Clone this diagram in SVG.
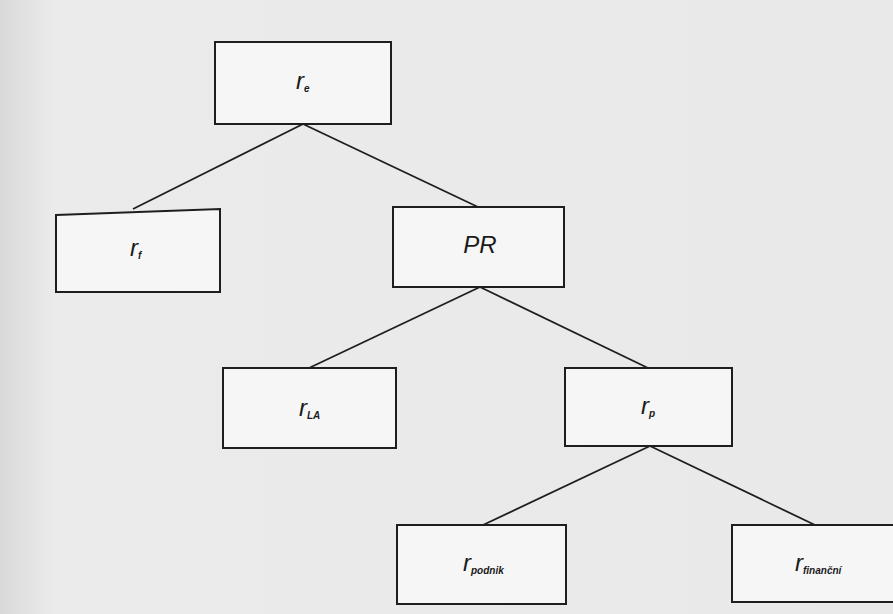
<svg xmlns="http://www.w3.org/2000/svg" width="893" height="614" viewBox="0 0 893 614">
<defs>
<linearGradient id="bg" x1="0" y1="0" x2="1" y2="0">
<stop offset="0" stop-color="#d9d9d9"/>
<stop offset="0.06" stop-color="#ebebeb"/>
<stop offset="1" stop-color="#e9e9e9"/>
</linearGradient>
</defs>
<style>
.box{fill:#f6f6f6;stroke:#1e1e1e;stroke-width:2}
.lbl{font-family:"Liberation Sans",Arial,sans-serif;font-style:italic;fill:#1a1a1a}
.main{font-size:24px}
.sub{font-size:10px;font-weight:bold}
.conn line{stroke:#1e1e1e;stroke-width:1.8}
</style>
<rect x="0" y="0" width="893" height="614" fill="url(#bg)"/>
<g id="connectors" class="conn">
<line x1="303" y1="124" x2="133" y2="209"/>
<line x1="303" y1="124" x2="478" y2="207"/>
<line x1="480" y1="287" x2="309" y2="368"/>
<line x1="480" y1="287" x2="648" y2="368"/>
<line x1="650" y1="446" x2="483" y2="525"/>
<line x1="650" y1="446" x2="815" y2="525"/>
</g>
<g id="node-re">
<rect class="box" x="215" y="42" width="176" height="82"/>
<text class="lbl" x="296" y="89"><tspan class="main">r</tspan><tspan class="sub" dy="3">e</tspan></text>
</g>
<g id="node-rf">
<polygon class="box" points="56,215 220,209 220,292 56,292"/>
<text class="lbl" x="130" y="256"><tspan class="main">r</tspan><tspan class="sub" dy="3">f</tspan></text>
</g>
<g id="node-pr">
<rect class="box" x="393" y="207" width="171" height="80"/>
<text class="lbl main" x="480" y="253" text-anchor="middle">PR</text>
</g>
<g id="node-rla">
<rect class="box" x="223" y="368" width="173" height="80"/>
<text class="lbl" x="299" y="416"><tspan class="main">r</tspan><tspan class="sub" dy="3">LA</tspan></text>
</g>
<g id="node-rp">
<rect class="box" x="565" y="368" width="167" height="78"/>
<text class="lbl" x="641" y="414"><tspan class="main">r</tspan><tspan class="sub" dy="3">p</tspan></text>
</g>
<g id="node-rpodnik">
<rect class="box" x="397" y="525" width="169" height="79"/>
<text class="lbl" x="463" y="571"><tspan class="main">r</tspan><tspan class="sub" dy="3">podnik</tspan></text>
</g>
<g id="node-rfinancni">
<rect class="box" x="732" y="525" width="170" height="77"/>
<text class="lbl" x="795" y="571"><tspan class="main">r</tspan><tspan class="sub" dy="3">finanční</tspan></text>
</g>
</svg>
